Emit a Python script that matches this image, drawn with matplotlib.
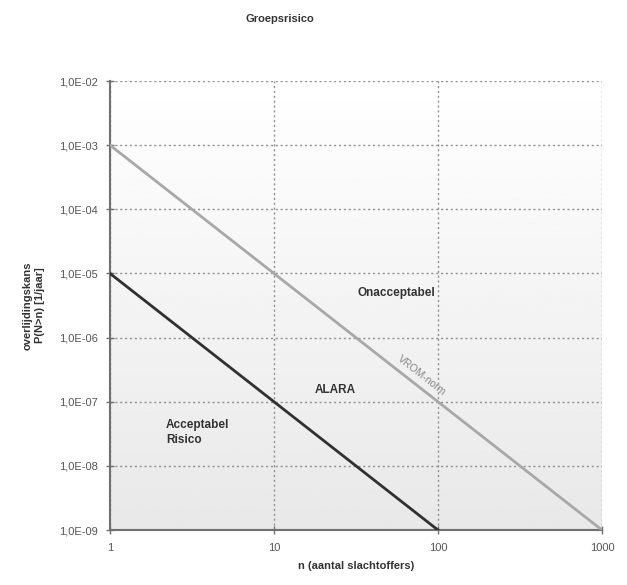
import numpy as np
import matplotlib.pyplot as plt
from matplotlib.ticker import FixedLocator, NullLocator

# --------------------------------------------------------------
# Data
# --------------------------------------------------------------

norm_n = [1, 1000]
norm_p = [1e-3, 1e-9]

low_n = [1, 100]
low_p = [1e-5, 1e-9]

x_ticks = [1, 10, 100, 1000]
x_labels = ["1", "10", "100", "1000"]
y_ticks = [1e-9, 1e-8, 1e-7, 1e-6, 1e-5, 1e-4, 1e-3, 1e-2]
y_labels = ["1,0E-09", "1,0E-08", "1,0E-07", "1,0E-06",
            "1,0E-05", "1,0E-04", "1,0E-03", "1,0E-02"]

plt.rcParams["font.family"] = ["Liberation Sans", "DejaVu Sans"]

# --------------------------------------------------------------
# Plot
# --------------------------------------------------------------

fig = plt.figure(figsize=(6.27, 5.85), dpi=100)
ax = fig.add_axes([0.1754, 0.094, 0.7846, 0.7675])

# background gradient (white at top, light grey at bottom)
grad = np.linspace(1.0, 0.91, 256).reshape(-1, 1)
ax.imshow(grad, cmap="gray", vmin=0, vmax=1, aspect="auto",
          extent=[0, 1, 0, 1], transform=ax.transAxes, zorder=0)

ax.set_xscale("log")
ax.set_yscale("log")
ax.set_xlim(1, 1000)
ax.set_ylim(1e-9, 1e-2)

ax.plot(norm_n, norm_p, color="#a8a8a8", lw=2, zorder=3)
ax.plot(low_n, low_p, color="#303030", lw=2, zorder=3)

ax.xaxis.set_major_locator(FixedLocator(x_ticks))
ax.xaxis.set_minor_locator(NullLocator())
ax.set_xticklabels(x_labels)
ax.yaxis.set_major_locator(FixedLocator(y_ticks))
ax.yaxis.set_minor_locator(NullLocator())
ax.set_yticklabels(y_labels)

ax.grid(True, which="major", color="#909090", linestyle=(0, (1.5, 2)), lw=1, zorder=1)
ax.set_axisbelow(True)

for side in ["top", "right"]:
    ax.spines[side].set_visible(False)
for side in ["left", "bottom"]:
    ax.spines[side].set_color("#707070")
    ax.spines[side].set_linewidth(1.5)

ax.tick_params(direction="inout", length=6, width=1, color="#707070",
               labelsize=8, labelcolor="#555555", pad=6)

# region labels
ax.text(56, 4.9e-6, "Onacceptabel", fontsize=8.5, fontweight="bold",
        color="#333333", ha="center", va="center")
ax.text(23.5, 1.5e-7, "ALARA", fontsize=8.5, fontweight="bold",
        color="#333333", ha="center", va="center")
ax.text(2.2, 3.3e-8, "Acceptabel\nRisico", fontsize=8.5, fontweight="bold",
        color="#333333", ha="left", va="center", linespacing=1.3)
ax.text(80, 2.6e-7, "VROM-norm", fontsize=7.5, color="#888888",
        ha="center", va="center", rotation=-38, rotation_mode="anchor")

ax.set_xlabel("n (aantal slachtoffers)", fontsize=8, fontweight="bold",
              color="#333333", labelpad=6)
ax.set_ylabel("overlijdingskans\nP(N>n) [1/jaar]", fontsize=8,
              fontweight="bold", color="#333333", labelpad=10)

fig.text(0.447, 0.967, "Groepsrisico", fontsize=8, fontweight="bold",
         color="#333333", ha="center", va="center")

plt.savefig("out.png", dpi=100)
